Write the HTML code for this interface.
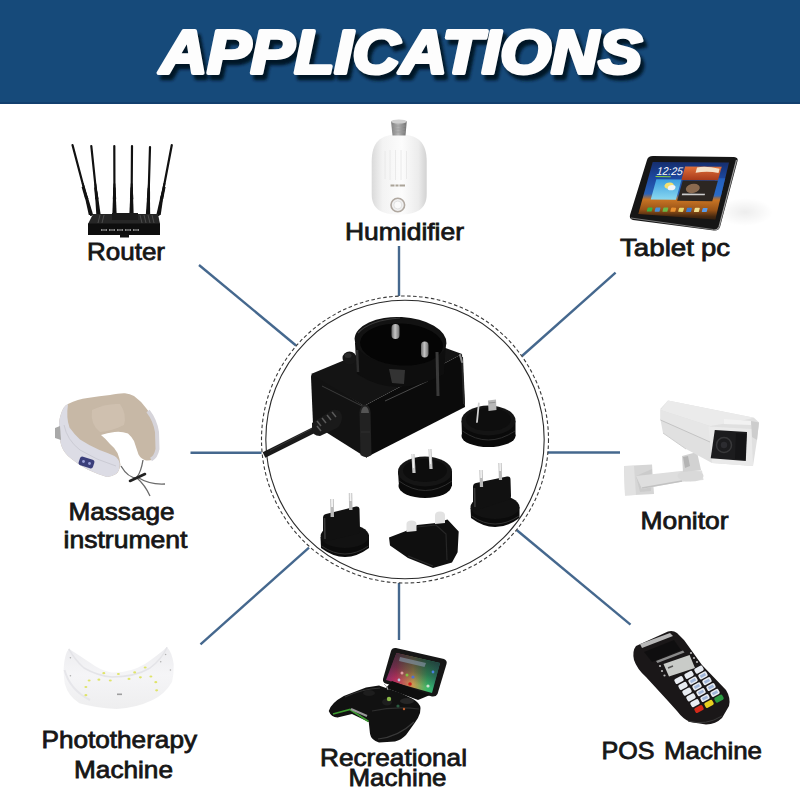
<!DOCTYPE html>
<html><head><meta charset="utf-8">
<style>
html,body{margin:0;padding:0;background:#fff;width:800px;height:800px;overflow:hidden}
svg{display:block}
.lb{font-family:"Liberation Sans",sans-serif;font-size:24px;fill:#161616;stroke:#161616;stroke-width:0.8}
.ttl{font-family:"Liberation Sans",sans-serif;font-weight:bold;font-style:italic;font-size:62px}
</style></head>
<body>
<svg width="800" height="800" viewBox="0 0 800 800">
<defs>
  <filter id="tsh" x="-10%" y="-30%" width="130%" height="160%">
    <feGaussianBlur stdDeviation="1.8"/>
  </filter>
</defs>
<!-- banner -->
<rect x="0" y="0" width="800" height="104" fill="#164a7a"/>
<rect x="0" y="102" width="800" height="2" fill="#123f6e"/>
<!-- title shadow + text -->
<g id="title">
<text class="ttl" x="163.5" y="77.5" fill="#041226" stroke="#041226" stroke-width="4.5" stroke-linejoin="round" textLength="482" lengthAdjust="spacingAndGlyphs" filter="url(#tsh)">APPLICATIONS</text>
<text class="ttl" x="160" y="73" fill="#fdfdfd" stroke="#fdfdfd" stroke-width="4" stroke-linejoin="round" textLength="482" lengthAdjust="spacingAndGlyphs">APPLICATIONS</text>
</g>

<!-- connector lines -->
<g stroke="#45688e" stroke-width="2.4" fill="none">
  <line x1="399" y1="246" x2="399" y2="296"/>
  <line x1="399" y1="583" x2="399" y2="640"/>
  <line x1="190.5" y1="452.8" x2="261.5" y2="452.8"/>
  <line x1="547.5" y1="452.5" x2="620" y2="452.5"/>
  <line x1="199" y1="265" x2="296" y2="345.5"/>
  <line x1="615.6" y1="272.6" x2="522" y2="356"/>
  <line x1="200.5" y1="644.3" x2="309" y2="547.7"/>
  <line x1="516.6" y1="530" x2="630.5" y2="624.7"/>
</g>
<!-- circles -->
<circle cx="405" cy="439.5" r="143.5" fill="none" stroke="#3a3a3a" stroke-width="1.1" stroke-dasharray="3.6 2.4"/>
<circle cx="405" cy="439.5" r="139.2" fill="none" stroke="#2a2a2a" stroke-width="1.1"/>

<!-- labels -->
<text class="lb" x="87" y="259.7" textLength="78" lengthAdjust="spacingAndGlyphs">Router</text>
<text class="lb" x="345" y="240" textLength="119" lengthAdjust="spacingAndGlyphs">Humidifier</text>
<text class="lb" x="620" y="256" textLength="74" lengthAdjust="spacingAndGlyphs">Tablet</text>
<text class="lb" x="701" y="256" textLength="29" lengthAdjust="spacingAndGlyphs">pc</text>
<text class="lb" x="68.5" y="519.5" textLength="106" lengthAdjust="spacingAndGlyphs">Massage</text>
<text class="lb" x="63.5" y="548.4" textLength="124" lengthAdjust="spacingAndGlyphs">instrument</text>
<text class="lb" x="640.5" y="528.5" textLength="88" lengthAdjust="spacingAndGlyphs">Monitor</text>
<text class="lb" x="41.5" y="748" textLength="155.5" lengthAdjust="spacingAndGlyphs">Phototherapy</text>
<text class="lb" x="74" y="778" textLength="99" lengthAdjust="spacingAndGlyphs">Machine</text>
<text class="lb" x="320" y="765.8" textLength="147" lengthAdjust="spacingAndGlyphs">Recreational</text>
<text class="lb" x="348.5" y="786" textLength="98" lengthAdjust="spacingAndGlyphs">Machine</text>
<text class="lb" x="601.5" y="759.2" textLength="53" lengthAdjust="spacingAndGlyphs">POS</text>
<text class="lb" x="664" y="759.2" textLength="98" lengthAdjust="spacingAndGlyphs">Machine</text>

<!-- PRODUCTS -->
<g id="adapter">
  <!-- cord -->
  <line x1="264" y1="455" x2="318" y2="428" stroke="#1a1a1a" stroke-width="6"/>
  <line x1="270" y1="450.5" x2="314" y2="427.5" stroke="#555" stroke-width="0.8" opacity="0.6"/>
  <!-- left face -->
  <path d="M311,377 Q311,373 315,373.5 L364,406 L367,458 L313,424 Z" fill="#121212"/>
  <!-- front face -->
  <polygon points="364,406 462,354 465,407 367,457" fill="#0b0b0b"/>
  <!-- top face -->
  <polygon points="311,374 352,357 440,346 462,354 364,406" fill="#141414"/>
  <!-- edge highlights -->
  <path d="M322,386 L364,407" stroke="#3a3a3a" stroke-width="1"/>
  <path d="M385,401 L428,381" stroke="#4a4a4a" stroke-width="1"/>
  <path d="M359.5,412 Q360,405 365,404.5 Q370,405 370.5,412 L371.5,455 Q366,459 360.5,455 Z" fill="#222"/>
  <path d="M361,413 Q361.5,407 365,406.5 Q368.5,407 369,413 Z" fill="#555"/>
  <path d="M361,432 L370,432" stroke="#333" stroke-width="0.8"/>
  <path d="M462,357 L464,404" stroke="#262626" stroke-width="2"/>
  <path d="M460,355 L462,362" stroke="#888" stroke-width="2" stroke-linecap="round"/>
  <!-- strain relief -->
  <path d="M312,423 L332,410 Q341,408 342,417 Q342,424 337,428 L320,436 Q312,436 312,429 Z" fill="#1a1a1a"/>
  <path d="M317,421 L321,426 M322,418 L326,423 M327,415 L331,420 M332,412 L336,417 M321,431 L317,426" stroke="#5a5a5a" stroke-width="1.5"/>
  <!-- knob -->
  <ellipse cx="349.5" cy="358" rx="7" ry="6.5" fill="#161616"/>
  <ellipse cx="348" cy="355.5" rx="3.5" ry="2.5" fill="#2c2c2c"/>
  <!-- socket cylinder -->
  <path d="M355,343 L357,374 Q397,400 444,374 L446,341 Z" fill="#0e0e0e"/>
  <ellipse cx="400.5" cy="341" rx="46" ry="24" fill="#121212" transform="rotate(3 400 341)"/>
  <ellipse cx="401.5" cy="344.5" rx="41.5" ry="21" fill="#050505" transform="rotate(3 401 344)"/>
  <path d="M358,333 Q370,320 400,318" stroke="#3a3a3a" stroke-width="1.2" fill="none"/>
  <path d="M389,369 L405,370 L404,384 L392,383 Z" fill="#333"/>
  <path d="M437,352 L438,396" stroke="#3a3a3a" stroke-width="3"/>
  <path d="M357,350 L358,372" stroke="#2e2e2e" stroke-width="2.5"/>
  <!-- socket pins -->
  <defs><linearGradient id="pin" x1="0" y1="0" x2="1" y2="0"><stop offset="0" stop-color="#6a6a6a"/><stop offset="0.45" stop-color="#c4c4c4"/><stop offset="1" stop-color="#707070"/></linearGradient></defs>
  <rect x="391.5" y="324" width="8" height="15" rx="4" fill="url(#pin)"/>
  <rect x="421" y="341.5" width="7.5" height="16" rx="3.7" fill="url(#pin)"/>
</g>

<g id="plugs">
  <!-- AU plug (top right) -->
  <path d="M461.5,421 L462,436 Q488,456 515.5,436 L515.5,421 Z" fill="#0c0c0c"/>
  <ellipse cx="488.5" cy="436" rx="27" ry="11" fill="#0a0a0a"/>
  <path d="M462.5,431 Q488,449 515,431" stroke="#2e2e2e" stroke-width="1" fill="none"/>
  <ellipse cx="488.5" cy="420.5" rx="27" ry="15" fill="#141414"/>
  <ellipse cx="488.5" cy="419.5" rx="22.5" ry="11.5" fill="#0e0e0e"/>
  <path d="M478.8,403.5 L477,422" stroke="#d0d0d0" stroke-width="1.8" stroke-linecap="round"/>
  <path d="M488,400.5 L496,399.5 L496.5,410 L488.5,411 Z" fill="#b8b8b8"/>
  <path d="M489,403 L495.5,402.3" stroke="#888" stroke-width="0.8"/>
  <!-- US plug (middle) -->
  <path d="M398,472 L399,486 Q425,506 452,486 L452,472 Z" fill="#0c0c0c"/>
  <ellipse cx="425" cy="486" rx="26.5" ry="12" fill="#0a0a0a"/>
  <path d="M399,481 Q425,500 452,481" stroke="#2e2e2e" stroke-width="1" fill="none"/>
  <ellipse cx="425" cy="471.5" rx="27" ry="15" fill="#151515"/>
  <ellipse cx="425" cy="470.5" rx="22" ry="11.5" fill="#0d0d0d"/>
  <path d="M413,454 L414,473" stroke="#c8c8c8" stroke-width="3.2"/>
  <path d="M430,449 L431,469" stroke="#c8c8c8" stroke-width="3.2"/>
  <path d="M412.8,454 L413.6,468" stroke="#f2f2f2" stroke-width="1.2"/>
  <path d="M429.8,449 L430.6,464" stroke="#f2f2f2" stroke-width="1.2"/>
  <!-- EU plug (right) -->
  <path d="M470.5,508 L471,518 Q495,536 519.5,518 L519.5,507 Z" fill="#0b0b0b"/>
  <ellipse cx="495" cy="507" rx="24.5" ry="12" fill="#121212"/>
  <path d="M471.5,516 Q495,532 519,516" stroke="#333" stroke-width="1" fill="none"/>
  <path d="M473,487 Q473,483.5 476,483 L507,476.5 Q510.5,476 510.5,479.5 L511,496 Q511,499 508,500 L477,510 Q473,511 473,507 Z" fill="#111"/>
  <path d="M474.5,488 L475,507" stroke="#3a3a3a" stroke-width="1.6"/>
  <path d="M481,470 L481.5,487" stroke="#b8b8b8" stroke-width="3.2"/>
  <path d="M500,463 L500.5,480" stroke="#b8b8b8" stroke-width="3.2"/>
  <path d="M481,470 L481.2,478" stroke="#f4f4f4" stroke-width="1.6"/>
  <path d="M500,463 L500.2,471" stroke="#f4f4f4" stroke-width="1.6"/>
  <!-- EU plug (bottom left) -->
  <path d="M320.5,537 L321,548 Q345,566 369,548 L369,535 Z" fill="#0b0b0b"/>
  <ellipse cx="344.8" cy="536" rx="24.2" ry="12" fill="#121212"/>
  <path d="M321.5,546 Q345,562 368.5,546" stroke="#333" stroke-width="1" fill="none"/>
  <path d="M323,518 Q323,514.5 326,514 L356,506.5 Q359.5,506 359.5,509.5 L360,530 Q360,533 357,534 L326,541.5 Q323,542 323,538.5 Z" fill="#111"/>
  <path d="M324.5,518 L325,539" stroke="#3a3a3a" stroke-width="1.6"/>
  <path d="M332,499 L332.3,517" stroke="#b8b8b8" stroke-width="3.4"/>
  <path d="M350.5,493 L350.8,510" stroke="#b8b8b8" stroke-width="3.4"/>
  <path d="M332,499 L332.1,507" stroke="#f4f4f4" stroke-width="1.8"/>
  <path d="M350.5,493 L350.6,501" stroke="#f4f4f4" stroke-width="1.8"/>
  <!-- UK plug -->
  <path d="M389,537.6 L405.9,531 L417,525 L436,523 L447.5,519.6 L458.7,531.4 L457.6,552.2 L452,562.4 L433,568 L408,558 L390,545.5 Z" fill="#0f0f0f"/>
  <path d="M417,527 L436,525 L446,534 L447,560" stroke="#262626" stroke-width="1.2" fill="none"/>
  <path d="M408,556 L433,566" stroke="#2a2a2a" stroke-width="1.2" fill="none"/>
  <path d="M406.5,532 L406.5,524 Q406.5,520.5 411.5,520.5 Q416.5,520.5 416.5,524 L416.5,531 Z" fill="#e2e2e2"/>
  <path d="M435,524 L435,515.5 Q435,511.5 440,511.5 Q445,511.5 445,515.5 L445,523 Z" fill="#e2e2e2"/>
</g>


<g id="router">
  <line x1="72.5" y1="145" x2="91" y2="215" stroke="#111" stroke-width="2.2" stroke-linecap="round"/>
  <polygon points="81.8,183.1 83.6,183.1 93.2,215 88.8,215" fill="#111"/>
  <polygon points="81.6,187.1 83.8,187.1 88.5,199.0 85.1,199.0" fill="#111"/>
  <line x1="91.3" y1="146" x2="98.5" y2="215" stroke="#111" stroke-width="2.2" stroke-linecap="round"/>
  <polygon points="94.4,183.5 96.2,183.5 100.7,215 96.3,215" fill="#111"/>
  <polygon points="94.2,187.5 96.4,187.5 98.6,199.2 95.2,199.2" fill="#111"/>
  <line x1="114.3" y1="146" x2="114.5" y2="215" stroke="#111" stroke-width="2.2" stroke-linecap="round"/>
  <polygon points="113.5,183.5 115.3,183.5 116.7,215 112.3,215" fill="#111"/>
  <polygon points="113.3,187.5 115.5,187.5 116.2,199.2 112.8,199.2" fill="#111"/>
  <line x1="132" y1="146" x2="131.5" y2="215" stroke="#111" stroke-width="2.2" stroke-linecap="round"/>
  <polygon points="130.8,183.5 132.6,183.5 133.7,215 129.3,215" fill="#111"/>
  <polygon points="130.6,187.5 132.8,187.5 133.3,199.2 129.9,199.2" fill="#111"/>
  <line x1="150" y1="147" x2="148" y2="215" stroke="#111" stroke-width="2.2" stroke-linecap="round"/>
  <polygon points="148.0,183.9 149.8,183.9 150.2,215 145.8,215" fill="#111"/>
  <polygon points="147.8,187.9 150.0,187.9 150.1,199.5 146.8,199.5" fill="#111"/>
  <line x1="171.8" y1="145" x2="158.5" y2="215" stroke="#111" stroke-width="2.2" stroke-linecap="round"/>
  <polygon points="163.6,183.1 165.4,183.1 160.7,215 156.3,215" fill="#111"/>
  <polygon points="163.4,187.1 165.6,187.1 163.2,199.0 159.8,199.0" fill="#111"/>
  <polygon points="93,214 158,214 160,224 88,224" fill="#262626"/>
  <path d="M100,215 L98,223 M104,215 L102,223 M140,215 L142,223 M144,215 L146,223 M148,215 L150,223 M152,215 L154,223" stroke="#555" stroke-width="0.8"/>
  <rect x="112" y="213" width="26" height="7" fill="#1a1a1a"/>
  <rect x="88" y="223.5" width="72" height="11.5" fill="#0e0e0e"/>
  <path d="M101,230 h6 M109,230 h6 M117,230 h6 M125,230 h6 M133,230 h6" stroke="#8a8a8a" stroke-width="2.2"/>
  <path d="M102,230 h4 M110,230 h4 M118,230 h4 M126,230 h4 M134,230 h4" stroke="#222" stroke-width="0.9"/>
  <rect x="120" y="234" width="9" height="3.5" fill="#111"/>
</g>

<g id="tablet">
  <defs>
    <linearGradient id="tabscr" x1="0" y1="0" x2="0" y2="1">
      <stop offset="0" stop-color="#142a66"/>
      <stop offset="0.3" stop-color="#1c48a0"/>
      <stop offset="0.55" stop-color="#2a62b8"/>
      <stop offset="0.64" stop-color="#c87424"/>
      <stop offset="0.8" stop-color="#9a5418"/>
      <stop offset="0.9" stop-color="#4a2a10"/>
      <stop offset="1" stop-color="#1a1410"/>
    </linearGradient>
    <linearGradient id="wthg" x1="0" y1="0" x2="0" y2="1">
      <stop offset="0" stop-color="#3a9ee0"/>
      <stop offset="1" stop-color="#8ad8f0"/>
    </linearGradient>
    <linearGradient id="orgg" x1="0" y1="0" x2="0" y2="1">
      <stop offset="0" stop-color="#e0703a"/>
      <stop offset="1" stop-color="#a83a1a"/>
    </linearGradient>
    <clipPath id="tabclip"><polygon points="652.7,161.9 729,162.6 715.3,219.6 638.3,214.1"/></clipPath>
    <radialGradient id="tabsh" cx="0.5" cy="0.5" r="0.5">
      <stop offset="0" stop-color="#000" stop-opacity="0.07"/>
      <stop offset="1" stop-color="#000" stop-opacity="0"/>
    </radialGradient>
  </defs>
  <ellipse cx="745" cy="212" rx="28" ry="14" fill="url(#tabsh)"/>
  <path d="M653,156 L734,157 Q738.5,157.5 737.5,161 L720,227 Q718.5,231 714,230.5 L633,220 Q629,219 630,215 L647,160 Q648,156 653,156 Z" fill="#161616"/>
  <path d="M736.5,160 L719,227 Q717.5,230.5 713,230" stroke="#9a9a9a" stroke-width="1.2" fill="none"/>
  <path d="M631,218 L713,229.5" stroke="#777" stroke-width="1" fill="none"/>
  <polygon points="652.7,161.9 729,162.6 715.3,219.6 638.3,214.1" fill="#2a1a10"/>
  <g clip-path="url(#tabclip)">
    <g transform="matrix(0.763,0.007,-0.144,0.522,652.7,161.9)">
      <rect x="-20" y="-5" width="140" height="120" fill="url(#tabscr)"/>
      <rect x="88" y="30" width="20" height="35" fill="#2a70d0" opacity="0.6"/>
      <text x="9" y="24.5" font-family="Liberation Sans" font-size="21" fill="#fff" textLength="34" lengthAdjust="spacingAndGlyphs">12:25</text>
      <rect x="9" y="27" width="20" height="2" fill="#8ad040"/>
      <rect x="44" y="8" width="48" height="26" fill="url(#orgg)"/>
      <path d="M60,10 Q70,6 90,12 L90,20 Q75,16 60,20 Z" fill="#f4e0c8"/>
      <rect x="11" y="33" width="33" height="39" fill="url(#wthg)"/>
      <circle cx="30" cy="45" r="6" fill="#f4e070"/>
      <circle cx="34" cy="49" r="5" fill="#f0f4f8"/>
      <rect x="46" y="35" width="46" height="39" fill="#2c2622"/>
      <ellipse cx="62" cy="50" rx="9" ry="9" fill="#8a6a50"/>
      <rect x="50" y="60" width="30" height="3" fill="#ccc"/>
      <rect x="10.0" y="87" width="6.5" height="8" rx="1" fill="#3cb043"/><rect x="20.3" y="87" width="6.5" height="8" rx="1" fill="#4a90d8"/><rect x="30.6" y="87" width="6.5" height="8" rx="1" fill="#6ab848"/><rect x="40.9" y="87" width="6.5" height="8" rx="1" fill="#e89030"/><rect x="51.2" y="87" width="6.5" height="8" rx="1" fill="#e8d870"/><rect x="61.5" y="87" width="6.5" height="8" rx="1" fill="#3a78d0"/><rect x="71.8" y="87" width="6.5" height="8" rx="1" fill="#f0e090"/><rect x="82.1" y="87" width="6.5" height="8" rx="1" fill="#5a9ae8"/>
    </g>
  </g>
</g>

<g id="game">
  <defs>
    <linearGradient id="gscr" x1="0" y1="0.5" x2="1" y2="0.5">
      <stop offset="0" stop-color="#6a2a70"/>
      <stop offset="0.25" stop-color="#b8305a"/>
      <stop offset="0.5" stop-color="#c89a50"/>
      <stop offset="0.72" stop-color="#38b868"/>
      <stop offset="1" stop-color="#2a8a8a"/>
    </linearGradient>
    <linearGradient id="gdark" x1="0" y1="0" x2="0" y2="1">
      <stop offset="0" stop-color="#1e2a30" stop-opacity="0.95"/>
      <stop offset="0.45" stop-color="#1e2a30" stop-opacity="0.45"/>
      <stop offset="0.7" stop-color="#1e2a30" stop-opacity="0"/>
    </linearGradient>
    <clipPath id="gclip"><polygon points="396.5,653 440,663 432,693 386,680"/></clipPath>
  </defs>
  <!-- lid -->
  <path d="M396,648 L444,659 Q447.5,660.5 446.5,664 L437.5,694 Q436,697 432,696.5 L385.5,683.5 Q382.5,682 383,679 L391,651 Q392,647.5 396,648 Z" fill="#161616"/>
  <g clip-path="url(#gclip)">
    <rect x="380" y="650" width="66" height="48" fill="url(#gscr)"/>
    <rect x="380" y="650" width="66" height="48" fill="url(#gdark)" transform="rotate(14 413 673)"/>
    <polygon points="400,657 426,663 424.5,667 399,661" fill="#8090a0" opacity="0.7"/>
    <circle cx="402" cy="673" r="1.5" fill="#e0a0a0"/>
    <circle cx="407" cy="675" r="1.5" fill="#80c040"/>
    <circle cx="413" cy="677" r="1.6" fill="#5070d0"/>
    <circle cx="399" cy="680" r="1.4" fill="#c0c0e0"/>
    <circle cx="410" cy="684" r="1.8" fill="#d02020"/>
    <circle cx="428" cy="686" r="1.6" fill="#d0e0d0"/>
    <circle cx="433" cy="672" r="1.4" fill="#4a80e0"/>
  </g>
  <!-- controller -->
  <path d="M386,688 L392,681 L430,695 L418,700 Z" fill="#0e0e0e"/>
  <path d="M328.75,711 Q331,703 343.75,696 L366,687.5 L379,685.6 L386,688 Q400,692 412.5,698.75 Q420,703 420.5,708 L420,713 Q418,719 415,722.5 L406,735 Q401,740 395,741.5 L379,742.5 Q371,740 370,733.75 L368.75,722 L352,714 L337.5,717.5 Q331,717 328.75,711 Z" fill="#111"/>
  <path d="M333,714 L350,709.5 L368.5,721.5" stroke="#3c9a30" stroke-width="1.8" fill="none"/>
  <path d="M351,709 L367,716" stroke="#9a9a9a" stroke-width="2.2" fill="none"/>
  <path d="M372,711 Q395,706 419,709" stroke="#2e2e2e" stroke-width="1.2" fill="none"/>
  <path d="M378,739 Q398,737 414,722" stroke="#3a3a3a" stroke-width="1.2" fill="none"/>
  <path d="M345,697 Q362,689 380,688" stroke="#333" stroke-width="1" fill="none"/>
  <ellipse cx="369" cy="693" rx="6" ry="3" fill="#1d1d1d"/>
  <ellipse cx="387" cy="702" rx="5" ry="3.5" fill="#1e1e1e"/>
  <ellipse cx="407" cy="701" rx="7" ry="3" fill="#262626"/>
  <circle cx="389" cy="699" r="2.2" fill="#8ab848"/>
  <circle cx="398" cy="706" r="1.6" fill="#2a5a40"/>
  <circle cx="404" cy="709" r="1.2" fill="#c06030"/>
  <path d="M384,684 Q388,687 388,690" stroke="#aaa" stroke-width="1" fill="none"/>
</g>

<g id="pos">
  <path d="M636,646 L668,631.5 Q673,630 677,633 L684,640 L702,665 L726,690 Q731,698 729,706 L722,718 Q716,724 706,724.5 L690,722 Q683,719 677,711 L668,701 L646,677 Q637,669 634,660 Q632,651 636,646 Z" fill="#1a1718"/>
  <path d="M640,644 L670,633 L673,636 L642,648 Z" fill="#b8b8b8"/>
  <path d="M644,652 L674,640 L681,650 L652,662 Z" fill="#0c0c0c" opacity="0.7"/>
  <path d="M656,661 L683,650.5 L684.5,652.5 L657.5,663 Z" fill="#8a8a8a"/>
  <polygon points="663.5,664 689.6,655 695,668 669,676.5" fill="#c9cbc8"/>
  <path d="M668,668 L673,666" stroke="#555" stroke-width="1.5"/>
  <circle cx="660" cy="666" r="1.1" fill="#bbb"/><circle cx="662" cy="671" r="1.1" fill="#bbb"/><circle cx="664.5" cy="675.5" r="1.1" fill="#bbb"/>
  <circle cx="691" cy="653" r="1.1" fill="#bbb"/><circle cx="694" cy="658" r="1.1" fill="#bbb"/><circle cx="697" cy="662" r="1.1" fill="#bbb"/>
  <rect x="674.5" y="677.2" width="9" height="5.6" rx="1.6" fill="#e8ecf2" transform="rotate(-28 679.0 680.0)"/>
  <rect x="684.5" y="672.0" width="9" height="5.6" rx="1.6" fill="#e8ecf2" transform="rotate(-28 689.0 674.8)"/>
  <rect x="694.5" y="666.8" width="9" height="5.6" rx="1.6" fill="#e8ecf2" transform="rotate(-28 699.0 669.6)"/>
  <rect x="678.5" y="683.0" width="9" height="5.6" rx="1.6" fill="#e8ecf2" transform="rotate(-28 683.0 685.8)"/>
  <rect x="688.5" y="677.8" width="9" height="5.6" rx="1.6" fill="#e8ecf2" transform="rotate(-28 693.0 680.6)"/>
  <rect x="690.2" y="679.2" width="5.6" height="2.8" fill="#5a80c0" opacity="0.5" transform="rotate(-28 693.0 680.6)"/>
  <rect x="698.5" y="672.6" width="9" height="5.6" rx="1.6" fill="#e8ecf2" transform="rotate(-28 703.0 675.4)"/>
  <rect x="700.2" y="674.0" width="5.6" height="2.8" fill="#5a80c0" opacity="0.5" transform="rotate(-28 703.0 675.4)"/>
  <rect x="682.5" y="688.8" width="9" height="5.6" rx="1.6" fill="#e8ecf2" transform="rotate(-28 687.0 691.6)"/>
  <rect x="692.5" y="683.6" width="9" height="5.6" rx="1.6" fill="#e8ecf2" transform="rotate(-28 697.0 686.4)"/>
  <rect x="694.2" y="685.0" width="5.6" height="2.8" fill="#5a80c0" opacity="0.5" transform="rotate(-28 697.0 686.4)"/>
  <rect x="702.5" y="678.4" width="9" height="5.6" rx="1.6" fill="#e8ecf2" transform="rotate(-28 707.0 681.2)"/>
  <rect x="704.2" y="679.8" width="5.6" height="2.8" fill="#5a80c0" opacity="0.5" transform="rotate(-28 707.0 681.2)"/>
  <rect x="686.5" y="694.6" width="9" height="5.6" rx="1.6" fill="#e8ecf2" transform="rotate(-28 691.0 697.4)"/>
  <rect x="696.5" y="689.4" width="9" height="5.6" rx="1.6" fill="#e8ecf2" transform="rotate(-28 701.0 692.2)"/>
  <rect x="698.2" y="690.8" width="5.6" height="2.8" fill="#5a80c0" opacity="0.5" transform="rotate(-28 701.0 692.2)"/>
  <rect x="706.5" y="684.2" width="9" height="5.6" rx="1.6" fill="#e8ecf2" transform="rotate(-28 711.0 687.0)"/>
  <rect x="708.2" y="685.6" width="5.6" height="2.8" fill="#5a80c0" opacity="0.5" transform="rotate(-28 711.0 687.0)"/>
  <rect x="690.5" y="700.4" width="9" height="5.6" rx="1.6" fill="#e8ecf2" transform="rotate(-28 695.0 703.2)"/>
  <rect x="700.5" y="695.2" width="9" height="5.6" rx="1.6" fill="#e8ecf2" transform="rotate(-28 705.0 698.0)"/>
  <rect x="702.2" y="696.6" width="5.6" height="2.8" fill="#5a80c0" opacity="0.5" transform="rotate(-28 705.0 698.0)"/>
  <rect x="710.5" y="690.0" width="9" height="5.6" rx="1.6" fill="#e8ecf2" transform="rotate(-28 715.0 692.8)"/>
  <rect x="712.2" y="691.4" width="5.6" height="2.8" fill="#5a80c0" opacity="0.5" transform="rotate(-28 715.0 692.8)"/>
  <rect x="694.5" y="706.2" width="9" height="5.6" rx="1.6" fill="#d42a1a" transform="rotate(-28 699.0 709.0)"/>
  <rect x="704.5" y="701.0" width="9" height="5.6" rx="1.6" fill="#e8d020" transform="rotate(-28 709.0 703.8)"/>
  <rect x="714.5" y="695.8" width="9" height="5.6" rx="1.6" fill="#2a9a40" transform="rotate(-28 719.0 698.6)"/>
  <path d="M688,721 Q706,726 722,716" stroke="#3a3a3a" stroke-width="1" fill="none"/>
</g>

<g id="camera">
  <!-- wall plate -->
  <polygon points="624,466 652,464.5 654,494 625,495.5" fill="#d6d6d6"/>
  <polygon points="624,466 634,466 636,495 625,495.5" fill="#e2e2e2"/>
  <polygon points="636,476 652,469 651,491 640,492" fill="#cbcbcb"/>
  <!-- arm -->
  <polygon points="636,476 690,470 702,470.5 703.5,480 680,482 642,489" fill="#dedede"/>
  <path d="M642,488 L682,481" stroke="#c2c2c2" stroke-width="1.5"/>
  <ellipse cx="690.5" cy="476" rx="13" ry="5.5" fill="#d9d9d9"/>
  <!-- joint -->
  <polygon points="682,456 697,452 701,470 683,472" fill="#d2d2d2"/>
  <polygon points="683,457 688,456 690,466 685,468" fill="#b4b4b4"/>
  <!-- housing silhouette -->
  <polygon points="668,400.5 754,417.7 759,422.5 757,440 753,466 712,463 686,449 663,433 660.5,419.8 660.5,408.8" fill="#e0e0e0"/>
  <polygon points="668,400.5 754,417.7 740,421 710,426 660.5,410" fill="#ebebeb"/>
  <polygon points="660.5,410 710,426 710,442 660.5,420" fill="#e6e6e6"/>
  <path d="M660.5,420 L710,442" stroke="#c4c4c4" stroke-width="1"/>
  <path d="M663,433 L686,449" stroke="#cfcfcf" stroke-width="1"/>
  <polygon points="724,419 751,421 751,425 724,424" fill="#f2f2f2"/>
  <polygon points="751,421 759,422.5 757,440 752,437" fill="#cdcdcd"/>
  <!-- front frame -->
  <polygon points="708.6,426.6 751.3,429 753,466 712,463" fill="#eaeaea"/>
  <polygon points="714.8,430 747,432 745.8,461 710.7,458.3" fill="#1c1c1e"/>
  <circle cx="724" cy="445" r="7.5" fill="none" stroke="#38383a" stroke-width="1.5"/>
  <circle cx="724" cy="445" r="3.2" fill="#2c2c30"/>
  <path d="M736,433 L746.5,434 L745.3,460 L735,459 Z" fill="#151517"/>
</g>

<g id="massage">
  <!-- cords -->
  <path d="M121,466 Q128,478 137,478 Q145,485 150,496" stroke="#6a6a6a" stroke-width="1.3" fill="none"/>
  <path d="M143,460 Q141,472 137,477 Q150,485 165,484" stroke="#6a6a6a" stroke-width="1.3" fill="none"/>
  <path d="M130,481 L145,474" stroke="#222" stroke-width="2.6" stroke-linecap="round"/>
  <!-- beige body -->
  <path d="M60.5,415.5 Q63,406 68,404 Q78,399 87.5,398 Q100,396 110,395 Q120,393 125,393.3 Q130,394 134,396 Q141,401 146,408 Q152,415 155,421.5 Q158,428 158.7,435 Q159,443 158,450 Q156.5,456 153.5,459 Q150,461 146,460.5 Q141,459 138.5,454.5 Q136,447 134,441 Q131,436 128,433.5 Q121,431 114.5,432 Q107,433 101,435 Q106,439 110,444 Q115,448 117.5,453 Q120,459 120.5,465 Q119,472 116,474 Q111,477 107,477 Q97,474 87.5,469.5 Q76,463 68,456 Q62,450 60.5,442.5 Q58.5,435 59,427.5 Q59,420 60.5,415.5 Z" fill="#c7b8a6"/>
  <path d="M92,410 Q106,403 120,404 Q127,414 124,425 Q112,431 100,432 Q90,424 92,410 Z" fill="#cfc1b0" opacity="0.9"/>
  <path d="M148,411 Q155,420 157,432 L157.5,449 Q156,457 151,459.5" stroke="#d6d4da" stroke-width="4" fill="none"/>
  <!-- gray left arm band -->
  <path d="M60.5,415.5 Q63,406 68,404 Q66,418 69.5,427.5 Q74,434 80,439.5 Q90,446 99.5,450 Q108,453 114.5,456 Q119,459 119.7,463.5 Q120,471 116,474 Q111,477 107,477 Q97,474 87.5,469.5 Q76,463 68,456 Q62,450 60.5,442.5 Q58.5,435 59,427.5 Q59,420 60.5,415.5 Z" fill="#dcdce5"/>
  <path d="M64,425 Q67,440 80,450 Q96,460 116,466" stroke="#cbcbd4" stroke-width="1" fill="none"/>
  <path d="M55,428 L60,426 L61,440 L55,438 Z" fill="#a8a8a8"/>
  <!-- button panel -->
  <rect x="79" y="458" width="15" height="9" rx="2.5" fill="#3a3e7a" transform="rotate(18 86.5 462.5)"/>
  <circle cx="83.5" cy="461.5" r="1.4" fill="#9aa0d8"/><circle cx="89.5" cy="463.5" r="1.4" fill="#9aa0d8"/>
</g>

<g id="humid">
  <defs>
    <linearGradient id="humg" x1="0" y1="0" x2="1" y2="0">
      <stop offset="0" stop-color="#dadada"/>
      <stop offset="0.2" stop-color="#f3f3f3"/>
      <stop offset="0.55" stop-color="#fcfcfc"/>
      <stop offset="0.85" stop-color="#ececec"/>
      <stop offset="1" stop-color="#d2d2d2"/>
    </linearGradient>
    <linearGradient id="capg" x1="0" y1="0" x2="1" y2="0">
      <stop offset="0" stop-color="#7e7e7e"/>
      <stop offset="0.45" stop-color="#b4b4b4"/>
      <stop offset="1" stop-color="#707070"/>
    </linearGradient>
  </defs>
  <path d="M399,134.5 C380,134.5 371.7,142 371.7,162 L371.7,194 C371.7,209 381,214.5 399,214.5 C417,214.5 426.7,209 426.7,194 L426.7,162 C426.7,142 418,134.5 399,134.5 Z" fill="url(#humg)"/>
  <path d="M391,121 L406.8,121 L405.5,135.5 L392.5,135.5 Z" fill="url(#capg)"/>
  <ellipse cx="398.9" cy="121.5" rx="7.9" ry="2" fill="#d0d0d0"/>
  <path d="M392,126 h13.5 M392.3,129 h13 M392.6,132 h12.5" stroke="#9a9a9a" stroke-width="0.7"/>
  <path d="M385,151 L385,179 M390,150 L390,180 M395.5,150 L395.5,180 M401,150 L401,180 M406.5,151 L406.5,179" stroke="#e8e8e8" stroke-width="0.9"/>
  <path d="M390.5,185.5 h4 M395.5,185.5 h3 M399.5,185.5 h5.5" stroke="#8a8070" stroke-width="1.8" opacity="0.7"/>
  <circle cx="397.8" cy="205" r="6.8" fill="#f0f0f0" stroke="#b0a8a0" stroke-width="1.6"/>
  <circle cx="397.8" cy="205" r="4" fill="#fafafa" stroke="#dcdcdc" stroke-width="0.8"/>
</g>

<g id="photo">
  <defs>
    <linearGradient id="phg" x1="0" y1="0" x2="0" y2="1">
      <stop offset="0" stop-color="#ececef"/>
      <stop offset="0.45" stop-color="#f5f5f7"/>
      <stop offset="1" stop-color="#eeeeef"/>
    </linearGradient>
  </defs>
  <path d="M68.8,648.8 Q80,656 95,666 Q105,672 112,672.4 Q130,673 145,664 Q158,655 167,647.2 Q172,652 173.7,664.3 Q174,674 172,682 Q165,694 152.6,700 Q136,708 116.8,709 Q95,708 79.4,703.3 Q68,696 64.8,683.8 Q63,672 64,664.3 Q65,654 68.8,648.8 Z" fill="url(#phg)"/>
  <path d="M68.8,648.8 Q75,660 84,668 Q98,676 112,677 Q135,677 150,668 Q162,659 167,647.2" stroke="#e4e4e8" stroke-width="1.5" fill="none"/>
  <path d="M64.5,670 Q70,690 90,700" stroke="#e6e6ea" stroke-width="2" fill="none"/>
  <ellipse cx="103.8" cy="673.2" rx="1.5" ry="1.1" fill="#dfe46a"/><ellipse cx="89.1" cy="680.5" rx="1.5" ry="1.1" fill="#dfe46a"/><ellipse cx="98.9" cy="679.7" rx="1.5" ry="1.1" fill="#dfe46a"/><ellipse cx="110.3" cy="680.5" rx="1.5" ry="1.1" fill="#dfe46a"/><ellipse cx="118.4" cy="674.0" rx="1.5" ry="1.1" fill="#dfe46a"/><ellipse cx="129.0" cy="678.9" rx="1.5" ry="1.1" fill="#dfe46a"/><ellipse cx="134.7" cy="672.4" rx="1.5" ry="1.1" fill="#dfe46a"/><ellipse cx="140.4" cy="677.3" rx="1.5" ry="1.1" fill="#dfe46a"/><ellipse cx="145.2" cy="667.5" rx="1.5" ry="1.1" fill="#dfe46a"/><ellipse cx="150.9" cy="676.5" rx="1.5" ry="1.1" fill="#dfe46a"/><ellipse cx="155.8" cy="682.2" rx="1.5" ry="1.1" fill="#dfe46a"/><ellipse cx="156.6" cy="690.3" rx="1.5" ry="1.1" fill="#dfe46a"/><ellipse cx="85.9" cy="687.0" rx="1.5" ry="1.1" fill="#dfe46a"/><ellipse cx="85.9" cy="695.2" rx="1.5" ry="1.1" fill="#dfe46a"/><circle cx="70.4" cy="657.8" r="0.8" fill="#b0b0b0"/><circle cx="70.4" cy="675.7" r="0.8" fill="#b0b0b0"/><circle cx="160.7" cy="661.8" r="0.8" fill="#b0b0b0"/><circle cx="170.4" cy="670.0" r="0.8" fill="#b0b0b0"/><circle cx="165.6" cy="654.5" r="0.8" fill="#b0b0b0"/>
  <rect x="117" y="693.5" width="5" height="1.6" fill="#8a8a8a" opacity="0.8"/>
</g>
</svg>
</body></html>
